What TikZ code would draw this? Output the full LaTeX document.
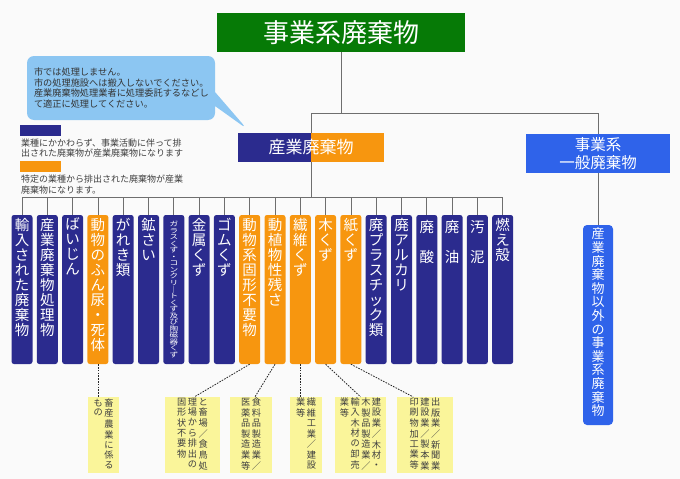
\documentclass[tikz,border=0pt]{standalone}
\usepackage{fontspec}
\newfontfamily\jp{Noto Sans CJK JP}
\usepackage{tikz}
\usetikzlibrary{positioning, shapes.callouts}
\definecolor{WasteNavy}{HTML}{2B2B8E}
\definecolor{WasteOrange}{HTML}{F7960F}
\definecolor{WasteGreen}{HTML}{067A06}
\definecolor{WasteBlue}{HTML}{2F63EA}
\definecolor{MemoBlue}{HTML}{8CC6F2}
\definecolor{NoteYellow}{HTML}{FAF59A}
\definecolor{TreeGray}{HTML}{6E6E6E}
\newcommand{\tcol}[1]{\begin{tabular}[t]{@{}c@{}}#1\end{tabular}}

\begin{document}
\begin{tikzpicture}[x=1pt, y=-1pt,
    tree/.style={draw=TreeGray, line width=0.8pt},
    link/.style={draw=black!85, line width=0.8pt, dash pattern=on 1.6pt off 1.2pt},
    col/.style={fill=WasteNavy, rounded corners=2.5pt, minimum width=21pt,
                minimum height=149pt, inner sep=0pt},
    ocol/.style={col, fill=WasteOrange},
    coltext/.style={text=white, align=center, inner sep=0pt,
                font=\jp\fontsize{14.5}{15}\selectfont},
    note/.style={fill=NoteYellow, inner sep=0pt, minimum height=76pt,
                text=black!75, font=\jp\fontsize{9.2}{9.9}\selectfont},
    legtext/.style={text=black!75, align=left, inner sep=0pt,
                font=\jp\fontsize{9}{10.5}\selectfont}]
  \useasboundingbox (0,0) rectangle (680,479);
  \fill[white!98!black] (0,0) rectangle (680,479);
  % Heads
  \node[fill=WasteGreen, minimum width=248pt, minimum height=39pt, text=white,
        font=\jp\fontsize{26}{30}\selectfont] (title) at (341,32.5) {事業系廃棄物};
  \node[fill=WasteNavy, minimum width=146pt, minimum height=29pt, text=white,
        font=\jp\fontsize{17}{20}\selectfont,
        path picture={\fill[WasteOrange] (path picture bounding box.north)
          rectangle (path picture bounding box.south east);}]
    (sangyo) at (311,147.5) {産業廃棄物};
  \node[fill=WasteBlue, minimum width=144pt, minimum height=39pt, text=white, align=center,
        font=\jp\fontsize{15.5}{17.5}\selectfont] (ippan) at (598,153.5) {事業系\\一般廃棄物};
  \node[fill=WasteBlue, rounded corners=4pt, minimum width=30pt, minimum height=200pt,
        inner sep=0pt] (ippanlist) at (598,325) {};
  \node[coltext, font=\jp\fontsize{13}{13.6}\selectfont, below=3pt of ippanlist.north]
    {産\\業\\廃\\棄\\物\\以\\外\\の\\事\\業\\系\\廃\\棄\\物};
  % Note balloon
  \node[rectangle callout, fill=MemoBlue, rounded corners=7pt, minimum height=64pt,
        inner xsep=7pt, text width=174pt, align=left, text=black!80,
        callout pointer width=14pt,
        callout absolute pointer={([xshift=9pt,yshift=4pt]sangyo.north west)},
        font=\jp\fontsize{9.2}{10.5}\selectfont] (memo) at (121,88)
    {市では処理しません。\\市の処理施設へは搬入しないでください。\\産業廃棄物処理業者に処理委託するなどし\\て適正に処理してください。};
  % Legend
  \node[fill=WasteNavy, minimum width=41pt, minimum height=11pt, inner sep=0pt] (leg1) at (40.5,130.5) {};
  \node[legtext, below right=2.5pt and 1pt of leg1.south west] (legtxt1)
    {業種にかかわらず、事業活動に伴って排\\出された廃棄物が産業廃棄物になります};
  \node[fill=WasteOrange, minimum width=41pt, minimum height=11pt, inner sep=0pt] (leg2) at (40.5,166.5) {};
  \node[legtext, below right=2.5pt and 1pt of leg2.south west] (legtxt2)
    {特定の業種から排出された廃棄物が産業\\廃棄物になります。};
  % Columns
  \node[col]  (c1)  at (22.0,289.5)  {};
  \node[col]  (c2)  at (47.3,289.5)  {};
  \node[col]  (c3)  at (72.6,289.5)  {};
  \node[ocol] (c4)  at (97.9,289.5)  {};
  \node[col]  (c5)  at (123.2,289.5) {};
  \node[col]  (c6)  at (148.5,289.5) {};
  \node[col]  (c7)  at (173.8,289.5) {};
  \node[col]  (c8)  at (199.1,289.5) {};
  \node[col]  (c9)  at (224.4,289.5) {};
  \node[ocol] (c10) at (249.7,289.5) {};
  \node[ocol] (c11) at (275.0,289.5) {};
  \node[ocol] (c12) at (300.3,289.5) {};
  \node[ocol] (c13) at (325.6,289.5) {};
  \node[ocol] (c14) at (350.9,289.5) {};
  \node[col]  (c15) at (376.2,289.5) {};
  \node[col]  (c16) at (401.5,289.5) {};
  \node[col]  (c17) at (426.8,289.5) {};
  \node[col]  (c18) at (452.1,289.5) {};
  \node[col]  (c19) at (477.4,289.5) {};
  \node[col]  (c20) at (502.7,289.5) {};
  \node[coltext, below=3pt of c1.north]  {輸\\入\\さ\\れ\\た\\廃\\棄\\物};
  \node[coltext, below=3pt of c2.north]  {産\\業\\廃\\棄\\物\\処\\理\\物};
  \node[coltext, below=3pt of c3.north]  {ば\\い\\じ\\ん};
  \node[coltext, below=3pt of c4.north]  {動\\物\\の\\ふ\\ん\\尿\\・\\死\\体};
  \node[coltext, below=3pt of c5.north]  {が\\れ\\き\\類};
  \node[coltext, below=3pt of c6.north]  {鉱\\さ\\い};
  \node[coltext, font=\jp\fontsize{8.6}{8.4}\selectfont, yscale=0.78, transform shape,
        below=6pt of c7.north]
    {ガ\\ラ\\ス\\く\\ず\\・\\コ\\ン\\ク\\リ\\｜\\ト\\く\\ず\\及\\び\\陶\\磁\\器\\く\\ず};
  \node[coltext, below=3pt of c8.north]  {金\\属\\く\\ず};
  \node[coltext, below=3pt of c9.north]  {ゴ\\ム\\く\\ず};
  \node[coltext, below=3pt of c10.north] {動\\物\\系\\固\\形\\不\\要\\物};
  \node[coltext, below=3pt of c11.north] {動\\植\\物\\性\\残\\さ};
  \node[coltext, below=3pt of c12.north] {繊\\維\\く\\ず};
  \node[coltext, below=3pt of c13.north] {木\\く\\ず};
  \node[coltext, below=3pt of c14.north] {紙\\く\\ず};
  \node[coltext, below=3pt of c15.north] {廃\\プ\\ラ\\ス\\チ\\ッ\\ク\\類};
  \node[coltext, below=3pt of c16.north] {廃\\ア\\ル\\カ\\リ};
  \node[coltext, below=5pt of c17.north] {廃\\[15pt]酸};
  \node[coltext, below=5pt of c18.north] {廃\\[15pt]油};
  \node[coltext, below=5pt of c19.north] {汚\\[15pt]泥};
  \node[coltext, below=3pt of c20.north] {燃\\え\\殻};
  % Tree
  \coordinate (bus) at (341,113);
  \coordinate (rail) at (311,197);
  \draw[tree] (title.south) -- (bus);
  \draw[tree] (sangyo.north) -- (sangyo.north |- bus) -| (ippan.north);
  \draw[tree] (ippan.south) -- (ippanlist.north);
  \draw[tree] (sangyo.south) -- (rail);
  \draw[tree] (c1.north |- rail) -- (c20.north |- rail);
  \foreach \i in {1,...,20}
    \draw[tree] (c\i.north) -- (c\i.north |- rail);
  % Notes on trades
  \node[note, minimum width=31pt] (n1) at (103.5,435)
    {\tcol{も\\の}\hspace{1.5pt}\tcol{畜\\産\\農\\業\\に\\係\\る}};
  \node[note, minimum width=55pt] (n2) at (192.5,435)
    {\tcol{固\\形\\状\\不\\要\\物}\hspace{1.5pt}\tcol{理\\場\\か\\ら\\排\\出\\の}\hspace{1.5pt}\tcol{と\\畜\\場\\／\\食\\鳥\\処}};
  \node[note, minimum width=42pt] (n3) at (251,435)
    {\tcol{医\\薬\\品\\製\\造\\業\\等}\hspace{1.5pt}\tcol{食\\料\\品\\製\\造\\業\\／}};
  \node[note, minimum width=32pt] (n4) at (306,435)
    {\tcol{業\\等}\hspace{1.5pt}\tcol{繊\\維\\工\\業\\／\\建\\設}};
  \node[note, minimum width=51pt] (n5) at (360.5,435)
    {\tcol{業\\等}\hspace{1.5pt}\tcol{輸\\入\\木\\材\\の\\卸\\売}\hspace{1.5pt}\tcol{木\\製\\品\\製\\造\\業\\／}\hspace{1.5pt}\tcol{建\\設\\業\\／\\木\\材\\・}};
  \node[note, minimum width=56pt] (n6) at (425,435)
    {\tcol{印\\刷\\物\\加\\工\\業\\等}\hspace{1.5pt}\tcol{建\\設\\業\\／\\製\\本\\業}\hspace{1.5pt}\tcol{出\\版\\業\\／\\新\\聞\\業}};
  \draw[link] (c4.south) -- (c4.south |- n1.north);
  \draw[link] (c10.south) -- ([xshift=2pt]n2.north);
  \draw[link] (c11.south) -- ([xshift=4pt]n3.north);
  \draw[link] (c12.south) -- (c12.south |- n4.north);
  \draw[link] (c13.south) -- (n5.north);
  \draw[link] (c14.south) -- ([xshift=-12pt]n6.north);
\end{tikzpicture}
\end{document}
